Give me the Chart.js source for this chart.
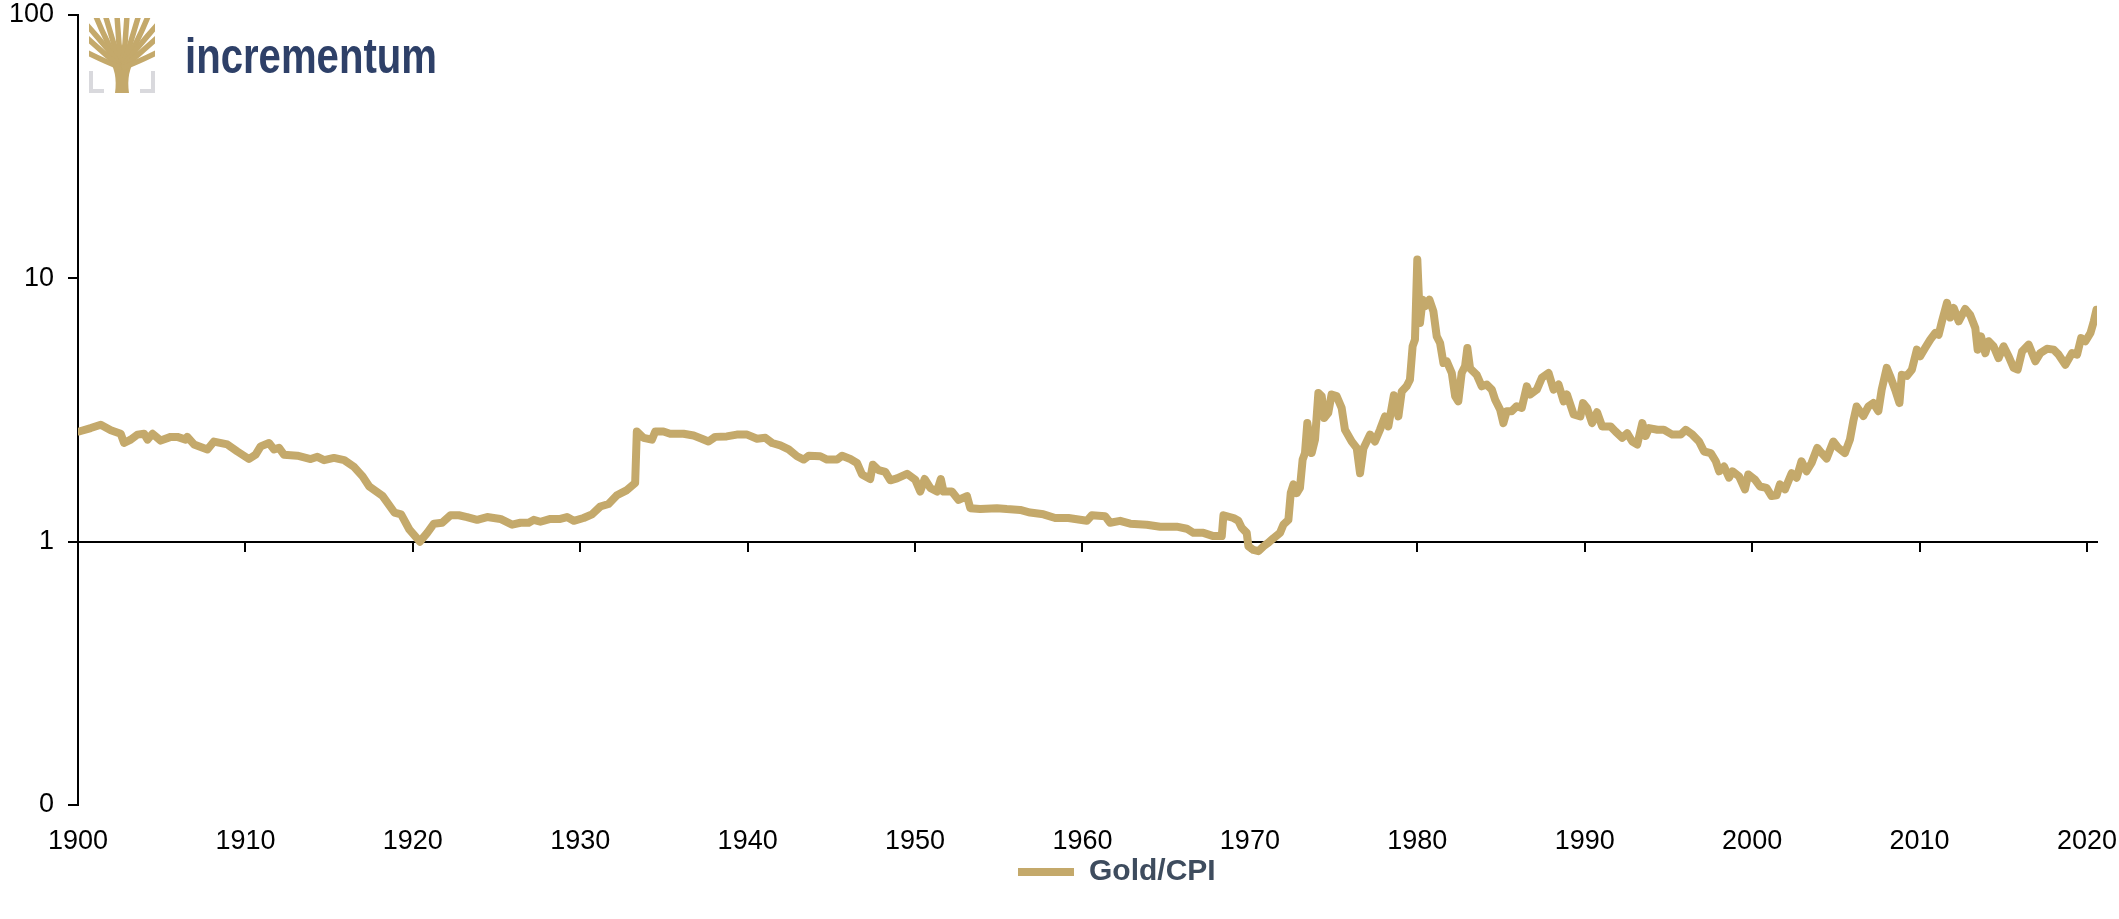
<!DOCTYPE html>
<html>
<head>
<meta charset="utf-8">
<title>Gold/CPI</title>
<script src="https://cdn.jsdelivr.net/npm/chart.js@4.4.1/dist/chart.umd.min.js"></script>
<style>
  html, body { margin: 0; padding: 0; background: #fff; }
  #wrap { position: relative; width: 2119px; height: 919px; }
</style>
</head>
<body>
<div id="wrap"><canvas id="chart"></canvas></div>
<script>
// values (gold price divided by CPI, log scale)
const years = [
  1900.06, 1900.76, 1901.36, 1901.96, 1902.55, 1902.75, 1903.15, 1903.55, 1903.95, 1904.15,
  1904.45, 1904.94, 1905.54, 1905.93, 1906.43, 1906.53, 1906.93, 1907.73, 1908.12, 1908.92,
  1909.52, 1910.21, 1910.61, 1910.91, 1911.41, 1911.71, 1912.01, 1912.30, 1913.10, 1913.90,
  1914.30, 1914.70, 1915.29, 1915.90, 1916.50, 1917.00, 1917.40, 1918.20, 1918.90, 1919.30,
  1919.80, 1920.42, 1920.86, 1921.26, 1921.75, 1922.25, 1922.75, 1923.24, 1923.84, 1924.44,
  1925.23, 1925.93, 1926.43, 1926.92, 1927.22, 1927.62, 1928.22, 1928.81, 1929.21, 1929.61,
  1930.20, 1930.70, 1931.20, 1931.69, 1932.19, 1932.79, 1933.28, 1933.38, 1933.78, 1934.28,
  1934.48, 1934.97, 1935.37, 1936.17, 1936.77, 1937.26, 1937.66, 1938.06, 1938.75, 1939.35,
  1939.97, 1940.56, 1941.06, 1941.46, 1941.95, 1942.45, 1942.95, 1943.35, 1943.65, 1944.34,
  1944.74, 1945.34, 1945.64, 1946.13, 1946.53, 1946.83, 1947.32, 1947.48, 1947.82, 1948.22,
  1948.52, 1948.92, 1949.52, 1950.01, 1950.31, 1950.57, 1950.91, 1951.31, 1951.54, 1951.70,
  1952.20, 1952.60, 1953.10, 1953.30, 1953.89, 1954.89, 1955.48, 1956.28, 1956.87, 1957.67,
  1958.37, 1959.16, 1960.26, 1960.56, 1961.35, 1961.65, 1962.25, 1962.85, 1963.84, 1964.64,
  1965.63, 1966.23, 1966.63, 1967.22, 1967.82, 1968.32, 1968.42, 1969.02, 1969.31, 1969.51,
  1969.81, 1969.91, 1970.21, 1970.51, 1970.81, 1971.10, 1971.40, 1971.80, 1972.00, 1972.30,
  1972.44, 1972.60, 1972.80, 1972.99, 1973.15, 1973.29, 1973.43, 1973.69, 1973.89, 1974.09,
  1974.29, 1974.44, 1974.68, 1974.88, 1975.18, 1975.48, 1975.68, 1976.08, 1976.38, 1976.58,
  1976.78, 1977.18, 1977.47, 1977.77, 1978.07, 1978.27, 1978.60, 1978.87, 1979.07, 1979.36,
  1979.56, 1979.72, 1979.86, 1980.00, 1980.16, 1980.32, 1980.46, 1980.72, 1980.96, 1981.16,
  1981.36, 1981.56, 1981.76, 1982.06, 1982.26, 1982.45, 1982.65, 1982.85, 1982.99, 1983.15,
  1983.55, 1983.85, 1984.15, 1984.45, 1984.65, 1984.95, 1985.14, 1985.34, 1985.64, 1985.94,
  1986.24, 1986.54, 1986.74, 1987.14, 1987.44, 1987.84, 1988.14, 1988.44, 1988.74, 1988.94,
  1989.34, 1989.74, 1989.90, 1990.14, 1990.44, 1990.74, 1991.04, 1991.54, 1991.84, 1992.24,
  1992.54, 1992.84, 1993.14, 1993.44, 1993.64, 1993.84, 1994.34, 1994.73, 1995.23, 1995.73,
  1996.03, 1996.43, 1996.83, 1997.13, 1997.53, 1997.83, 1998.03, 1998.32, 1998.62, 1998.82,
  1999.22, 1999.57, 1999.77, 2000.17, 2000.47, 2000.86, 2001.16, 2001.46, 2001.66, 2001.96,
  2002.36, 2002.66, 2002.95, 2003.25, 2003.55, 2003.89, 2004.15, 2004.45, 2004.85, 2005.15,
  2005.54, 2005.84, 2006.04, 2006.24, 2006.64, 2006.94, 2007.24, 2007.54, 2007.74, 2008.04,
  2008.24, 2008.54, 2008.80, 2008.94, 2009.24, 2009.54, 2009.84, 2010.04, 2010.34, 2010.64,
  2010.94, 2011.14, 2011.34, 2011.64, 2011.84, 2012.04, 2012.34, 2012.73, 2013.03, 2013.33,
  2013.47, 2013.67, 2013.93, 2014.13, 2014.42, 2014.72, 2015.02, 2015.32, 2015.62, 2015.86,
  2016.12, 2016.52, 2016.92, 2017.21, 2017.61, 2018.01, 2018.31, 2018.71, 2019.11, 2019.41,
  2019.65, 2019.91, 2020.21, 2020.41, 2020.57
];
const goldCpi = [
  2.62, 2.70, 2.78, 2.65, 2.57, 2.37, 2.44, 2.55, 2.57, 2.44,
  2.57, 2.42, 2.50, 2.50, 2.44, 2.50, 2.34, 2.24, 2.40, 2.34,
  2.20, 2.06, 2.14, 2.30, 2.37, 2.24, 2.27, 2.14, 2.12, 2.06,
  2.10, 2.04, 2.08, 2.04, 1.92, 1.77, 1.62, 1.49, 1.29, 1.27,
  1.11, 1.00, 1.08, 1.17, 1.18, 1.26, 1.26, 1.24, 1.21, 1.24,
  1.22, 1.16, 1.18, 1.18, 1.21, 1.19, 1.22, 1.22, 1.24, 1.20,
  1.23, 1.27, 1.36, 1.39, 1.50, 1.57, 1.67, 2.62, 2.48, 2.44,
  2.62, 2.62, 2.57, 2.57, 2.53, 2.46, 2.40, 2.50, 2.51, 2.55,
  2.55, 2.46, 2.48, 2.37, 2.32, 2.24, 2.11, 2.05, 2.12, 2.11,
  2.05, 2.05, 2.12, 2.06, 1.99, 1.80, 1.73, 1.96, 1.87, 1.84,
  1.71, 1.74, 1.81, 1.72, 1.55, 1.73, 1.60, 1.55, 1.73, 1.55,
  1.55, 1.44, 1.49, 1.34, 1.33, 1.34, 1.33, 1.32, 1.29, 1.27,
  1.23, 1.23, 1.20, 1.26, 1.25, 1.18, 1.20, 1.17, 1.16, 1.14,
  1.14, 1.12, 1.08, 1.08, 1.05, 1.05, 1.26, 1.23, 1.20, 1.13,
  1.08, 0.96, 0.93, 0.92, 0.96, 0.99, 1.03, 1.08, 1.16, 1.21,
  1.53, 1.65, 1.53, 1.60, 2.05, 2.17, 2.82, 2.17, 2.44, 3.67,
  3.57, 2.95, 3.08, 3.62, 3.57, 3.22, 2.66, 2.40, 2.27, 1.82,
  2.26, 2.55, 2.40, 2.66, 2.99, 2.74, 3.60, 2.99, 3.72, 3.89,
  4.12, 5.52, 5.85, 11.8, 6.77, 8.30, 7.83, 8.30, 7.50, 6.02,
  5.68, 4.77, 4.84, 4.37, 3.57, 3.41, 4.37, 4.63, 5.44, 4.55,
  4.30, 3.89, 3.95, 3.78, 3.46, 3.17, 2.82, 3.13, 3.13, 3.27,
  3.22, 3.89, 3.62, 3.78, 4.19, 4.37, 3.78, 3.95, 3.41, 3.62,
  3.04, 2.99, 3.36, 3.22, 2.82, 3.10, 2.74, 2.74, 2.62, 2.48,
  2.58, 2.40, 2.34, 2.82, 2.52, 2.70, 2.66, 2.66, 2.55, 2.55,
  2.66, 2.55, 2.40, 2.20, 2.17, 2.02, 1.85, 1.93, 1.75, 1.85,
  1.77, 1.58, 1.80, 1.72, 1.62, 1.60, 1.49, 1.50, 1.65, 1.58,
  1.82, 1.75, 2.02, 1.85, 1.99, 2.27, 2.17, 2.07, 2.40, 2.27,
  2.17, 2.44, 2.86, 3.26, 3.00, 3.26, 3.36, 3.13, 3.78, 4.57,
  4.26, 3.78, 3.36, 4.30, 4.26, 4.50, 5.36, 5.06, 5.45, 5.85,
  6.20, 6.10, 6.87, 8.07, 7.10, 7.72, 6.87, 7.65, 7.25, 6.48,
  5.36, 6.02, 5.20, 5.77, 5.52, 4.98, 5.52, 5.06, 4.57, 4.50,
  5.27, 5.60, 4.84, 5.20, 5.40, 5.36, 5.13, 4.70, 5.20, 5.13,
  5.93, 5.77, 6.20, 6.87, 7.60
];
const xTickYears = [1900, 1910, 1920, 1930, 1940, 1950, 1960, 1970, 1980, 1990, 2000, 2010, 2020];
const yTickValues = [0.1, 1, 10, 100];
const yTickLabels = ['0', '1', '10', '100'];
const seriesName = 'Gold/CPI';

const GOLD = '#c4a96b';
const NAVY = '#2e4068';
const FONT = 'Arial, "Liberation Sans", sans-serif';
const X_MIN = 1900;
const X_MAX = 2020.6;

function setTicks(values) {
  return function (scale) {
    scale.ticks = values.map(v => ({ value: v }));
  };
}

// incrementum logo in the top left corner
function drawLogo(ctx) {
  ctx.save();
  ctx.fillStyle = '#d9d9dd';
  ctx.fillRect(89, 71, 4, 22);
  ctx.fillRect(89, 89, 15, 4);
  ctx.fillRect(151, 71, 4, 22);
  ctx.fillRect(140, 89, 15, 4);

  ctx.beginPath();
  ctx.rect(89, 18, 66, 75);
  ctx.clip();
  ctx.fillStyle = GOLD;
  ctx.strokeStyle = GOLD;
  ctx.beginPath();
  ctx.moveTo(115, 93);
  ctx.lineTo(129, 93);
  ctx.quadraticCurveTo(126, 72, 136, 58);
  ctx.lineTo(108, 58);
  ctx.quadraticCurveTo(118, 72, 115, 93);
  ctx.fill();
  const branches = [
    [95, 14, 106, 42], [105, 14, 112, 40], [117, 14, 118, 42],
    [127, 14, 126, 42], [139, 14, 132, 40], [149, 14, 138, 42],
    [86, 24, 106, 46], [86, 37, 104, 54], [86, 52, 106, 62],
    [158, 24, 138, 46], [158, 37, 140, 54], [158, 52, 138, 62]
  ];
  ctx.lineWidth = 5.5;
  branches.forEach(b => {
    ctx.beginPath();
    ctx.moveTo(122, 68);
    ctx.quadraticCurveTo(b[2], b[3], b[0], b[1]);
    ctx.stroke();
  });
  ctx.restore();

  ctx.save();
  ctx.font = 'bold 50px ' + FONT;
  ctx.fillStyle = NAVY;
  ctx.textBaseline = 'alphabetic';
  const w = ctx.measureText('incrementum').width;
  ctx.translate(185, 73);
  ctx.scale(252 / w, 1);
  ctx.fillText('incrementum', 0, 0);
  ctx.restore();
}

const logoPlugin = {
  id: 'logo',
  afterDraw(chart) { drawLogo(chart.ctx); }
};

// move the legend item so its line starts where the reference puts it
const legendShift = {
  id: 'legendShift',
  afterLayout(chart) {
    const lg = chart.legend;
    if (!lg || !lg.lineWidths) return;
    const pad = lg.options.labels.padding;
    const start = (lg.left + pad + lg.right - lg.lineWidths[0]) / 2;
    const dx = 1018 - start;
    lg.left += dx;
    lg.right += dx;
  }
};

new Chart(document.getElementById('chart'), {
  type: 'line',
  data: {
    datasets: [{
      label: seriesName,
      data: years.map((y, i) => ({ x: y, y: goldCpi[i] })),
      xAxisID: 'x',
      yAxisID: 'y',
      borderColor: GOLD,
      backgroundColor: GOLD,
      borderWidth: 8,
      borderJoinStyle: 'round',
      borderCapStyle: 'round',
      pointRadius: 0,
      tension: 0
    }]
  },
  options: {
    responsive: true,
    maintainAspectRatio: false,
    animation: false,
    devicePixelRatio: 1,
    layout: { padding: { left: 0, right: 22, top: 15, bottom: 22 } },
    plugins: {
      tooltip: { enabled: false },
      legend: {
        position: 'bottom',
        labels: {
          usePointStyle: true,
          pointStyle: 'line',
          pointStyleWidth: 56,
          boxHeight: 30,
          padding: 2,
          color: '#3e4c5e',
          font: { family: FONT, size: 30, weight: 'bold' }
        }
      }
    },
    scales: {
      x: {
        type: 'linear',
        position: 'bottom',
        min: X_MIN,
        max: X_MAX,
        afterBuildTicks: setTicks(xTickYears),
        afterFit(scale) {
          scale.height = 50;
          scale.paddingLeft = 0;
          scale.paddingRight = 0;
        },
        border: { display: false },
        grid: { display: false, drawTicks: false },
        ticks: {
          padding: 20,
          maxRotation: 0,
          autoSkip: false,
          color: '#000',
          font: { family: FONT, size: 27 },
          callback: v => String(v)
        }
      },
      x1: {
        type: 'linear',
        position: { y: 1 },
        min: X_MIN,
        max: X_MAX,
        afterBuildTicks: setTicks(xTickYears),
        border: { display: true, color: '#000', width: 2 },
        grid: {
          drawOnChartArea: false,
          drawTicks: true,
          tickLength: 9,
          color: '#000',
          lineWidth: 2
        },
        ticks: { display: false }
      },
      y: {
        type: 'logarithmic',
        position: 'left',
        min: 0.1,
        max: 100,
        afterBuildTicks: setTicks(yTickValues),
        afterFit(scale) {
          scale.width = 78;
          scale.paddingTop = 0;
          scale.paddingBottom = 0;
        },
        border: { display: true, color: '#000', width: 2 },
        grid: {
          drawOnChartArea: false,
          drawTicks: true,
          tickLength: 10,
          color: '#000',
          lineWidth: 2
        },
        ticks: {
          padding: 14,
          color: '#000',
          font: { family: FONT, size: 27 },
          callback: v => yTickLabels[yTickValues.indexOf(v)]
        }
      }
    }
  },
  plugins: [legendShift, logoPlugin]
});
</script>
</body>
</html>
